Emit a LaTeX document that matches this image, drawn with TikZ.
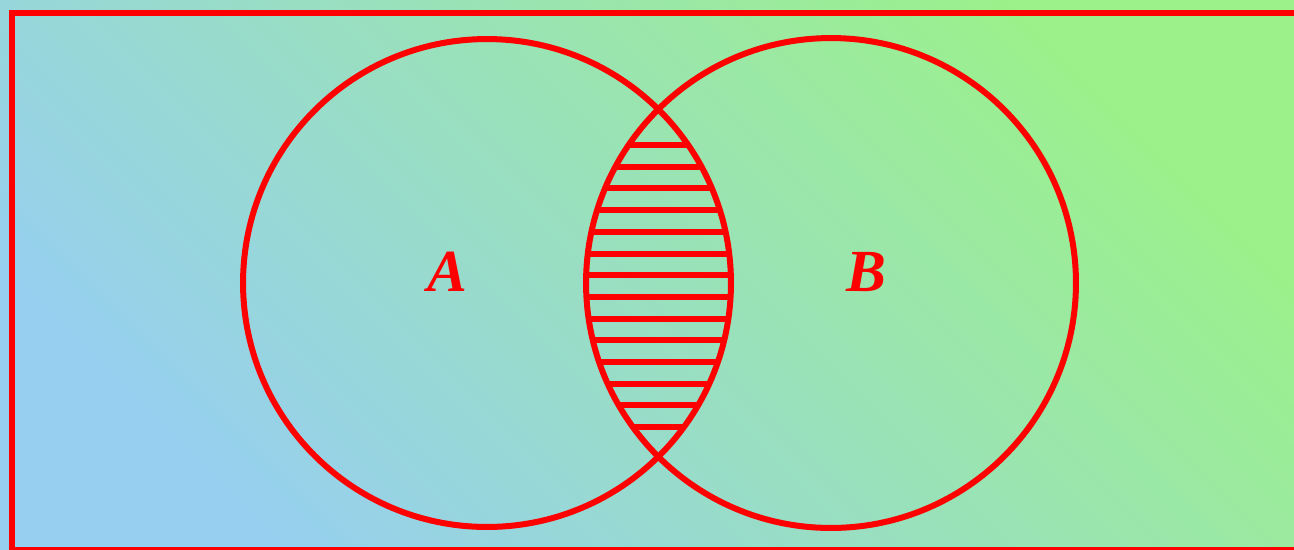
\documentclass[tikz,border=0pt]{standalone}
\usepackage{fontspec}
\setmainfont{Liberation Serif}
\definecolor{bgblue}{HTML}{96CFF0}
\definecolor{bgmid}{HTML}{94DFD2}
\definecolor{bggreen}{HTML}{9CF18A}
\definecolor{vred}{HTML}{FF0000}
\tikzset{
  frameline/.style={draw=vred, line width=0.13cm},
  setline/.style={draw=vred, line width=0.12cm},
  hatchline/.style={draw=vred, line width=0.12cm},
  setlabel/.style={text=vred, font=\fontsize{34}{34}\selectfont\bfseries\itshape, inner sep=0pt}
}
\begin{document}
\begin{tikzpicture}[x=0.02cm, y=-0.02cm]
\useasboundingbox (0,0) rectangle (1294,549);
\shade[bottom color=bgblue, middle color=bgmid, top color=bggreen, shading angle=-45] (0,0) rectangle (1294,549);
% frame
\draw[frameline] (12,13) rectangle (1320,550);
% circles
\coordinate (ca) at (487,283);
\coordinate (cb) at (831,283);
% hatch in intersection
\begin{scope}
  \clip (ca) circle (4.88cm);
  \clip (cb) circle (4.88cm);
  \foreach \k in {0,...,13} {
    \draw[hatchline] (560,{145+21.7*\k}) -- (760,{145+21.7*\k});
  }
\end{scope}
\draw[setline] (ca) circle (4.88cm);
\draw[setline] (cb) circle (4.9cm);
\node[setlabel] (A) at (447,272) {A};
\node[setlabel] (B) at (866,272) {B};
\end{tikzpicture}
\end{document}
